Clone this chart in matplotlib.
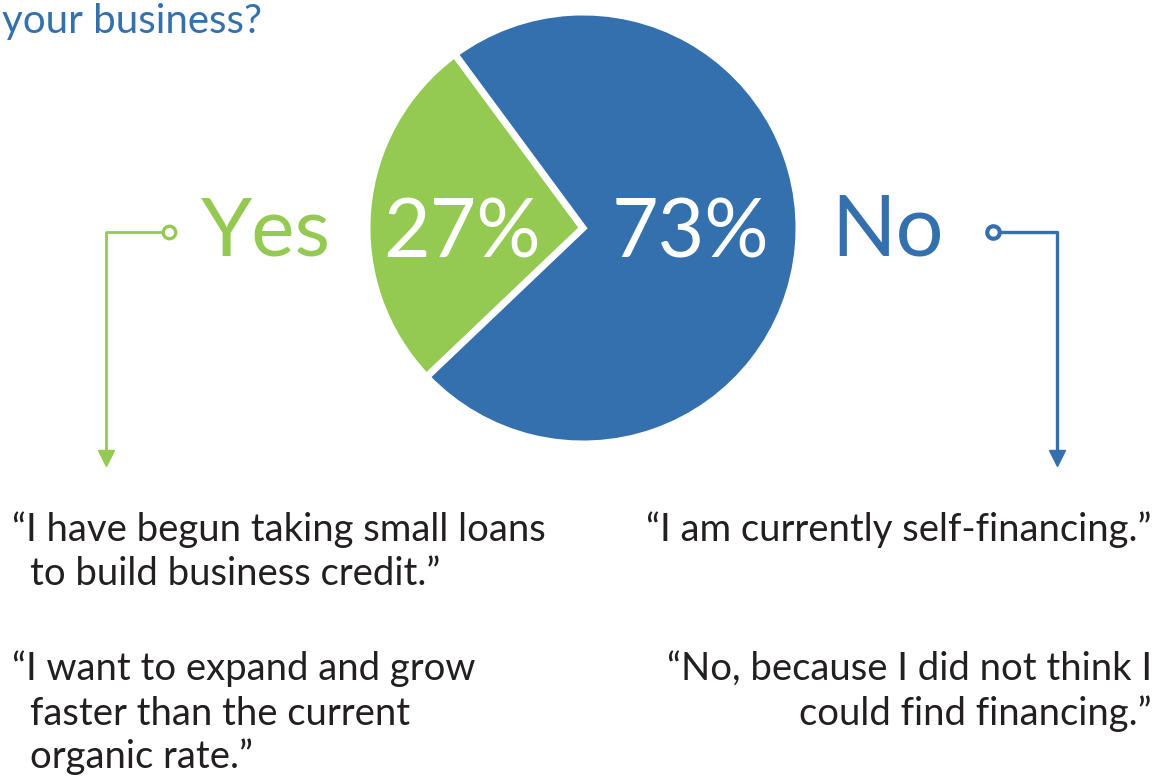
import matplotlib
matplotlib.use("Agg")
import matplotlib.pyplot as plt

# ---- data ----
categories = ["Yes", "No"]
shares = [27, 73]
colors = ["#94C952", "#3470AD"]
title_text = "your business?"
yes_quotes = ["\u201cI have begun taking small loans", "to build business credit.\u201d",
              "\u201cI want to expand and grow", "faster than the current", "organic rate.\u201d"]
no_quotes = ["\u201cI am currently self-financing.\u201d",
             "\u201cNo, because I did not think I", "could find financing.\u201d"]

W, H = 1157, 778
fig = plt.figure(figsize=(W / 100, H / 100), dpi=100)
ax = fig.add_axes([0, 0, 1, 1])

def Y(y):
    return H - y

cx, cy, r = 583, 228, 216
ax.pie(shares, colors=colors, startangle=126.4, counterclock=True,
       center=(cx, Y(cy)), radius=r, frame=True,
       wedgeprops=dict(edgecolor="white", linewidth=5))
ax.set_xlim(0, W)
ax.set_ylim(0, H)
ax.set_aspect("equal")
ax.axis("off")

FONT = "Lato"
# percentages
ax.text(462, Y(257), f"{shares[0]}%", color="white", fontsize=58, family=FONT,
        ha="center", va="baseline")
ax.text(690, Y(257), f"{shares[1]}%", color="white", fontsize=58, family=FONT,
        ha="center", va="baseline")
# category labels
ax.text(266, Y(255), categories[0], color=colors[0], fontsize=59, family=FONT,
        ha="center", va="baseline")
ax.text(888, Y(255), categories[1], color=colors[1], fontsize=61, family=FONT,
        ha="center", va="baseline")

# title fragment
ax.text(2, Y(33), title_text, color=colors[1], fontsize=29, family=FONT,
        ha="left", va="baseline")

# connectors
ax.plot([163, 106, 106], [Y(232), Y(232), Y(455)], color=colors[0], lw=2, solid_capstyle="butt")
ax.plot([169], [Y(232)], marker="o", ms=9, mfc="white", mec=colors[0], mew=2.4)
ax.plot([106], [Y(458)], marker="v", ms=12, color=colors[0])

ax.plot([999, 1057, 1057], [Y(232), Y(232), Y(455)], color=colors[1], lw=2.4, solid_capstyle="butt")
ax.plot([993], [Y(232)], marker="o", ms=9, mfc="white", mec=colors[1], mew=3)
ax.plot([1057], [Y(458)], marker="v", ms=12, color=colors[1])

# quotes
tc = "#231F20"
qs = 27.5
left_pos = [(12, 541), (30, 585), (12, 680), (30, 725), (30, 768)]
for txt, (x, y) in zip(yes_quotes, left_pos):
    ax.text(x, Y(y), txt, color=tc, fontsize=qs, family=FONT, fontweight="normal",
            ha="left", va="baseline")
right_pos = [(1152, 541), (1152, 680), (1152, 725)]
for txt, (x, y) in zip(no_quotes, right_pos):
    ax.text(x, Y(y), txt, color=tc, fontsize=qs, family=FONT, fontweight="normal",
            ha="right", va="baseline")

fig.savefig("out.png", dpi=100, facecolor="white")
